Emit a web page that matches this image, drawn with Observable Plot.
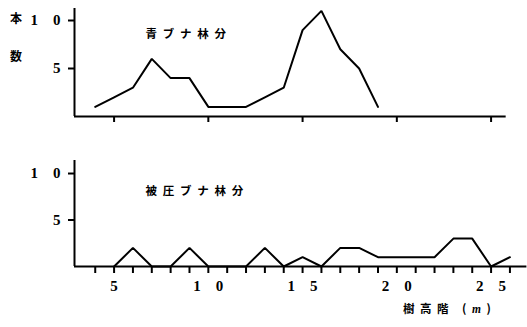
<!DOCTYPE html>
<html>
<head>
<meta charset="utf-8">
<script src="https://cdn.jsdelivr.net/npm/d3@7"></script>
<script src="https://cdn.jsdelivr.net/npm/@observablehq/plot@0.6"></script>
<style>
  html, body { margin: 0; padding: 0; background: #fff; }
  #chart { position: relative; width: 527px; height: 327px; }
  #top, #bottom { position: absolute; left: 0; }
  #top { top: 0; }
  #bottom { top: 150px; }
  .lbl { position: absolute; font-family: "Noto Sans CJK JP"; font-weight: 700; color: #000; white-space: nowrap; }
</style>
</head>
<body>
<div id="chart">
  <div id="top"></div>
  <div id="bottom"></div>
  <div class="lbl" style="left:10px;top:9px;font-size:12px;">本</div>
  <div class="lbl" style="left:10px;top:47px;font-size:12px;">数</div>
  <div class="lbl" style="left:403px;top:300px;font-size:11.5px;letter-spacing:5.5px;">樹高階 (<i style="font-family:'Liberation Serif'">m</i>)</div>
</div>
<script>
// Tree height class (m) and number of trees
const topHeights = [4,5,6,7,8,9,10,11,12,13,14,15,16,17,18,19];
const topCounts  = [1,2,3,6,4,4,1,1,1,2,3,9,11,7,5,1];
const bottomHeights = [5,6,7,8,9,10,11,12,13,14,15,16,17,18,19,20,21,22,23,24,25,26];
const bottomCounts  = [0,2,0,0,2,0,0,0,2,0,1,0,2,2,1,1,1,1,3,3,0,1];

const topTitle = "青ブナ林分";
const bottomTitle = "被圧ブナ林分";
const yTicks = [5, 10];
const topXTicks = [5, 10, 15, 20, 25];
const bottomXTicks = d3.range(4, 27);
const xLabelTicks = [5, 10, 15, 20, 25];

const xDomain = [2.9, 26.9];
const topAxisEnd = 25.8;

const topData = topHeights.map((h, i) => ({h, n: topCounts[i]}));
const bottomData = bottomHeights.map((h, i) => ({h, n: bottomCounts[i]}));

const spaced = d => String(d).split("").join("\u2003");
const spacedCJK = s => s.split("").join("\u2002");
const numFont = {fontFamily: "Liberation Serif", fontWeight: "bold", fontSize: 15};

const topPlot = Plot.plot({
  width: 527, height: 150,
  marginLeft: 74, marginRight: 0.6, marginTop: 8, marginBottom: 34,
  x: {domain: xDomain},
  y: {domain: [0, 11.25]},
  marks: [
    Plot.ruleY([0], {x1: xDomain[0], x2: topAxisEnd, strokeWidth: 2}),
    Plot.ruleX([xDomain[0]], {y1: 0, y2: 11.25, strokeWidth: 2}),
    Plot.axisY({ticks: yTicks, tickSize: 6, tickPadding: 8, tickFormat: spaced, label: null, strokeWidth: 2, ...numFont}),
    Plot.axisX({ticks: topXTicks, tickSize: 6, tickFormat: () => "", label: null, strokeWidth: 2}),
    Plot.line(topData, {x: "h", y: "n", strokeWidth: 2, stroke: "#000", strokeLinejoin: "miter"}),
    Plot.text([spacedCJK(topTitle)], {frameAnchor: "top-left", dx: 71, dy: 21, textAnchor: "start",
      fontFamily: "Noto Sans CJK JP", fontWeight: "bold", fontSize: 11.5, fill: "#000"})
  ]
});

const bottomPlot = Plot.plot({
  width: 527, height: 177,
  marginLeft: 74, marginRight: 0.6, marginTop: 10, marginBottom: 61,
  x: {domain: xDomain},
  y: {domain: [0, 11.4]},
  marks: [
    Plot.ruleY([0], {strokeWidth: 2}),
    Plot.ruleX([xDomain[0]], {y1: 0, y2: 11.4, strokeWidth: 2}),
    Plot.axisY({ticks: yTicks, tickSize: 6, tickPadding: 8, tickFormat: spaced, label: null, strokeWidth: 2, ...numFont}),
    Plot.axisX({ticks: bottomXTicks, tickSize: 7, tickFormat: () => "", label: null, strokeWidth: 2}),
    Plot.axisX({ticks: xLabelTicks, tickSize: 0, tickPadding: 14, tickFormat: spaced, label: null, ...numFont}),
    Plot.line(bottomData, {x: "h", y: "n", strokeWidth: 2, stroke: "#000", strokeLinejoin: "miter"}),
    Plot.text([spacedCJK(bottomTitle)], {frameAnchor: "top-left", dx: 71, dy: 26, textAnchor: "start",
      fontFamily: "Noto Sans CJK JP", fontWeight: "bold", fontSize: 11.5, fill: "#000"})
  ]
});

document.getElementById("top").append(topPlot);
document.getElementById("bottom").append(bottomPlot);
</script>
</body>
</html>
